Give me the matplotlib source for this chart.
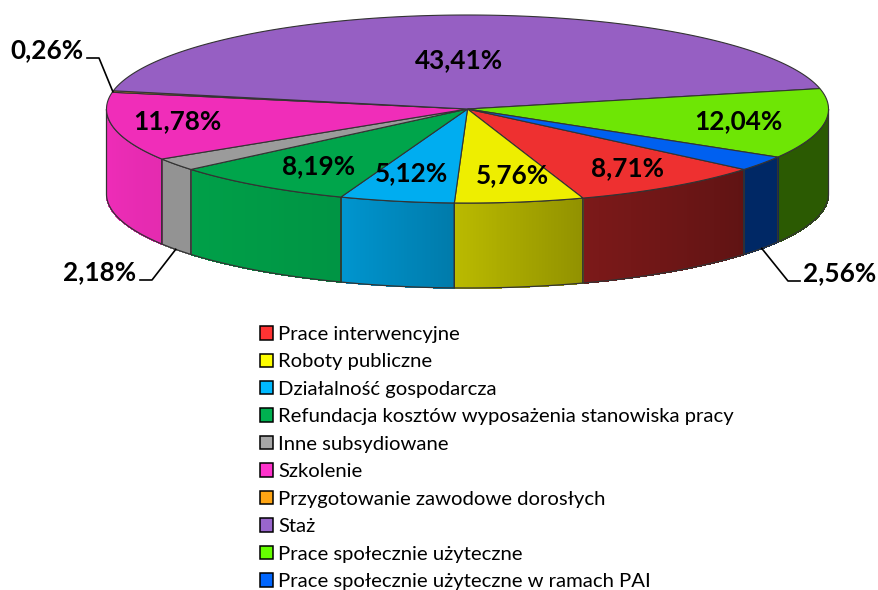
import numpy as np
import matplotlib
matplotlib.use("Agg")
import matplotlib.pyplot as plt
from matplotlib.collections import PolyCollection
from matplotlib.patches import Patch, Polygon

plt.rcParams['font.family'] = ['Lato', 'DejaVu Sans']

categories = ["Prace interwencyjne", "Roboty publiczne", "Działalność gospodarcza",
              "Refundacja kosztów wyposażenia stanowiska pracy", "Inne subsydiowane",
              "Szkolenie", "Przygotowanie zawodowe dorosłych", "Staż",
              "Prace społecznie użyteczne", "Prace społecznie użyteczne w ramach PAI"]
values = [8.71, 5.76, 5.12, 8.19, 2.18, 11.78, 0.26, 43.41, 12.04, 2.56]
value_labels = ["8,71%", "5,76%", "5,12%", "8,19%", "2,18%", "11,78%", "0,26%", "43,41%", "12,04%", "2,56%"]
top_colors = ["#ee3030", "#eeee00", "#00adf0", "#00a54b", "#9b9b9b",
              "#f02db9", "#f09b0f", "#965fc3", "#6ee605", "#0060f0"]
legend_colors = ["#ff3333", "#ffff00", "#00b9ff", "#00b050", "#a6a6a6",
                 "#ff33cc", "#ffa514", "#9966cc", "#66ff00", "#0066ff"]
# wall brightness at left and right end of each slice
wall_shade = [(0.52, 0.40), (0.78, 0.61), (0.86, 0.71), (0.97, 0.90), (0.95, 0.95),
              (1.0, 0.95), (0.9, 0.9), (0.9, 0.9), (0.39, 0.39), (0.42, 0.42)]
label_pos = [(628, 168), (512, 175), (411, 173), (319, 166), (100, 272),
             (177, 121), (47, 50), (459, 60), (738, 121), (840, 273)]
# slice index, elbow of leader, end of the short horizontal piece, on bottom rim?
leaders = [(6, (99, 58), (87, 58), False),
           (4, (152, 280), (140, 280), True),
           (9, (788, 281), (800, 281), True)]

cx, cy, rx, ry, depth = 467.5, 109, 361, 94, 85
start = 40

def rim(t, dy=0):
    t = np.radians(t)
    return np.column_stack([cx + rx * np.cos(t), cy + ry * np.sin(t) + dy])

fig = plt.figure(figsize=(8.79, 5.90), dpi=100)
ax = fig.add_axes([0, 0, 1, 1])
ax.set_xlim(0, 879)
ax.set_ylim(590, 0)
ax.axis("off")

values_arr = np.array(values)
edges = start + np.concatenate([[0], np.cumsum(values_arr)]) / values_arr.sum() * 360
edge_col = "#333333"

# walls, only the front half of the ellipse shows
for i in range(len(values)):
    t0, t1 = edges[i], edges[i+1]
    if t1 > 360:  # wrapped round past the right end
        t0, t1 = t0 - 360, t1 - 360
    a, b = max(t0, 0), min(t1, 180)
    if a >= b:
        continue
    ts = np.linspace(a, b, max(int((b - a) * 4), 2))
    up, low = rim(ts), rim(ts, depth)
    quads = [[up[j], up[j+1], low[j+1], low[j]] for j in range(len(ts) - 1)]
    base = np.array(matplotlib.colors.to_rgb(top_colors[i]))
    # t grows clockwise, so the left end of the slice is at t=b
    s = np.linspace(wall_shade[i][1], wall_shade[i][0], len(quads))
    cols = [np.clip(base * k, 0, 1) for k in s]
    ax.add_collection(PolyCollection(quads, facecolors=cols, edgecolors=cols, linewidths=0.6,
                                     antialiaseds=False, zorder=2))
    ax.add_patch(Polygon(np.vstack([up, low[::-1]]), closed=True, fill=False,
                         edgecolor=edge_col, lw=0.9, zorder=3))

# top face
for i in range(len(values)):
    ts = np.linspace(edges[i], edges[i+1], 200)
    pts = np.vstack([[cx, cy], rim(ts)])
    ax.add_patch(Polygon(pts, closed=True, facecolor=top_colors[i],
                         edgecolor=edge_col, lw=0.8, zorder=4))

for i, (x, y) in enumerate(label_pos):
    ax.text(x, y, value_labels[i], ha="center", va="center", fontsize=18.8,
            fontweight="bold", color="black", zorder=6)

for i, elbow, end, bottom in leaders:
    mid = (edges[i] + edges[i+1]) / 2
    p = rim(np.array([mid]), depth if bottom else 0)[0]
    ax.plot([p[0], elbow[0], end[0]], [p[1], elbow[1], end[1]], color="black", lw=1.2, zorder=5)

handles = [Patch(facecolor=c, edgecolor="black", lw=1.1) for c in legend_colors]
leg = ax.legend(handles, categories, loc="upper left", bbox_to_anchor=(260 / 879, 1 - 326 / 590),
                bbox_transform=fig.transFigure, frameon=False, fontsize=14.6,
                handlelength=0.64, handleheight=0.64, handletextpad=0.27,
                labelspacing=0.515, borderpad=0, borderaxespad=0)

fig.savefig("out.png", dpi=100)
